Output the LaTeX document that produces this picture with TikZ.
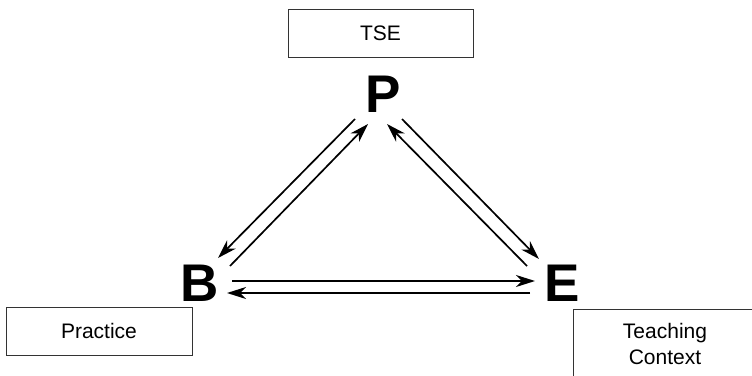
\documentclass[tikz,border=0pt]{standalone}
\usepackage{fontspec}
\setmainfont{Liberation Sans}
\usetikzlibrary{arrows.meta}
\begin{document}
\begin{tikzpicture}[x=1pt,y=-1pt,
  labelbox/.style={draw=black!80,line width=0.9pt,inner sep=0pt,font=\fontsize{21}{26}\selectfont,align=center},
  vertex/.style={inner sep=0pt,font=\fontsize{53}{53}\selectfont\bfseries},
  link/.style={line width=1.7pt,-{Stealth[length=19pt,width=12pt,inset=6pt]}}]
\useasboundingbox (0,0) rectangle (752,375);
\fill[white] (0,0) rectangle (752,375);
% boxes
\node[labelbox,minimum width=185pt,minimum height=48pt] (tse) at (380.5,33) {TSE};
\node[labelbox,minimum width=186pt,minimum height=48pt] (prac) at (99,331) {Practice};
\begin{scope}
\clip (0,0) rectangle (752,375);
\node[labelbox,minimum width=184pt,minimum height=70pt] (ctx) at (665,344) {Teaching\\Context};
\end{scope}
% vertices
\node[vertex] (P) at (383,94) {P};
\node[vertex] (B) at (200,283) {B};
\node[vertex] (E) at (562,283) {E};
% connector endpoints
\coordinate (pb1) at (355,119); \coordinate (bp1) at (218,258);
\coordinate (bp2) at (230,266); \coordinate (pb2) at (368,124);
\coordinate (pe1) at (402,119); \coordinate (ep1) at (539,259);
\coordinate (ep2) at (527,266); \coordinate (pe2) at (387,124);
\coordinate (be1) at (232,281); \coordinate (eb1) at (535,281);
\coordinate (eb2) at (530,293); \coordinate (be2) at (227,293);
\draw[link] (pb1) -- (bp1);
\draw[link] (bp2) -- (pb2);
\draw[link] (pe1) -- (ep1);
\draw[link] (ep2) -- (pe2);
\draw[link] (be1) -- (eb1);
\draw[link] (eb2) -- (be2);
\end{tikzpicture}
\end{document}
